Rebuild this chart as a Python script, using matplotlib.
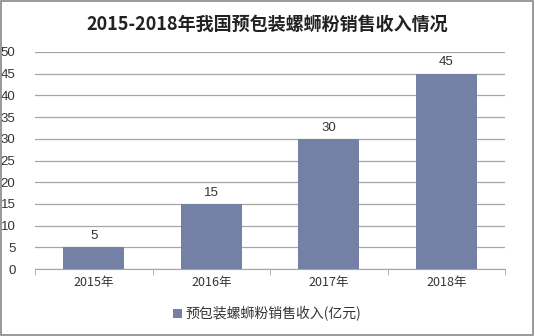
import matplotlib as mpl
mpl.use('Agg')
import matplotlib.pyplot as plt
import numpy as np
from matplotlib.patches import Rectangle

plt.rcParams['font.family'] = ['Noto Sans CJK SC', 'DejaVu Sans']

years = ['2015年', '2016年', '2017年', '2018年']
revenue = [5, 15, 30, 45]
yticks = np.arange(0, 55, 5)

bar_color = '#7480a6'
grid_color = '#a6a6a6'

fig = plt.figure(figsize=(5.35, 3.36), dpi=100)
fig.patches.append(Rectangle((0.002, 0.003), 0.995, 0.994, transform=fig.transFigure,
                             fill=False, edgecolor='#888888', lw=1.2))

ax = fig.add_axes([35/535, 1 - 269/336, 470/535, 217/336])
x = np.arange(len(years))
bars = ax.bar(x, revenue, width=0.52, color=bar_color, label='预包装螺蛳粉销售收入(亿元)', zorder=3)
for xi, v in zip(x, revenue):
    ax.text(xi, v + 1.2, str(v), ha='center', va='bottom', fontsize=9.5, color='#333333',
            family=['Liberation Sans', 'DejaVu Sans'])

ax.set_xlim(-0.5, len(years) - 0.5)
ax.set_ylim(0, 50)
ax.set_yticks(yticks)
ax.set_yticklabels([str(t) for t in yticks], family=['Liberation Sans', 'DejaVu Sans'],
                   fontsize=9.5, color='#333333')
ax.yaxis.grid(True, color=grid_color, lw=0.9, zorder=0)
ax.tick_params(axis='y', length=0, pad=14)

ax.set_xticks(x)
ax.set_xticklabels(years, fontsize=9, color='#333333')
ax.set_xticks(np.arange(-0.5, len(years)), minor=True)
ax.tick_params(axis='x', which='major', length=0, pad=5)
ax.tick_params(axis='x', which='minor', length=4, color=grid_color)

for s in ['top', 'right', 'left']:
    ax.spines[s].set_visible(False)
ax.spines['bottom'].set_color(grid_color)

fig.text(0.5, 1 - 24/336, '2015-2018年我国预包装螺蛳粉销售收入情况', ha='center', va='center',
         fontsize=13, fontweight='bold', color='#222222')

fig.legend(handles=[bars], loc='center', bbox_to_anchor=(0.5, 1 - 314/336), frameon=False,
           fontsize=10, handlelength=0.6, handleheight=0.6, handletextpad=0.3,
           labelcolor='#333333')

fig.savefig('out.png', dpi=100)
